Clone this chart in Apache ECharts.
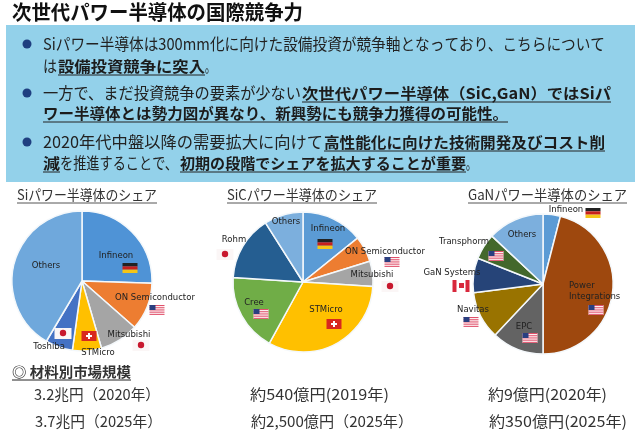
<!DOCTYPE html>
<html>
<head>
<meta charset="utf-8">
<script src="https://cdn.jsdelivr.net/npm/echarts@6/dist/echarts.min.js"></script>
<style>html,body{margin:0;padding:0;background:#fff}</style>
</head>
<body>
<div id="main" style="width:640px;height:432px;"></div>
<script type="text/javascript">
    // シェア(%) - 図から読み取り
    const siNames = ['Infineon', 'ON Semiconductor', 'Mitsubishi', 'STMicro', 'Toshiba', 'Others'];
    const siValues = [25.5, 11, 9, 6.7, 6.3, 41.5];
    const sicNames = ['Infineon', 'ON Semiconductor', 'Mitsubishi', 'STMicro', 'Cree', 'Rohm', 'Others'];
    const sicValues = [14.2, 6, 5.8, 32, 18, 15, 9];
    const ganNames = ['Infineon', 'Power\nIntegrations', 'EPC', 'Navitas', 'GaN Systems', 'Transphorm', 'Others'];
    const ganValues = [4, 46, 12, 11, 8, 6, 13];

    const siColors = ['#4f93d6', '#ed7d31', '#a5a5a5', '#ffc000', '#4472c4', '#6fa8dc'];
    const sicColors = ['#5b9bd5', '#ed7d31', '#a5a5a5', '#ffc000', '#70ad47', '#255e91', '#7cafdd'];
    const ganColors = ['#5b9bd5', '#9e480e', '#636363', '#997300', '#264478', '#43682b', '#7cafdd'];

    // ラベル位置
    const siLabelPos = [[116, 256], [155, 298], [129, 335], [98, 353], [49, 347], [46, 266]];
    const sicLabelPos = [[328, 229], [385, 252], [372, 275], [326, 310], [254, 303], [234, 240], [286, 222]];
    const ganLabelPos = [[566, 210], [569, 291, 'left'], [524, 327], [473, 310], [452, 273], [464, 242], [522, 235]];

    const flags = [
        ['de', 130, 268], ['us', 157, 310], ['jp', 141, 345], ['ch', 89, 336], ['jp', 63, 333],
        ['de', 325, 244], ['us', 392, 262], ['jp', 390, 286], ['ch', 334, 324], ['us', 261, 314], ['jp', 225, 254],
        ['de', 593, 213], ['us', 496, 256], ['ca', 461, 285], ['us', 471, 322], ['us', 530, 338], ['us', 596, 310]
    ];

    const jpFont = '"Noto Sans CJK JP"';
    const measure = document.createElement('canvas').getContext('2d');

    // 幅を合わせたテキスト
    function seg(text, x, y, width, size, opt) {
        opt = opt || {};
        let font = (opt.bold ? 'bold ' : '') + size + 'px ' + jpFont;
        measure.font = font;
        let out = [{
            type: 'text', x: x, y: y,
            scaleX: width / measure.measureText(text).width,
            style: { text: text, font: font, fill: opt.color || '#222', verticalAlign: 'middle' },
            silent: true, z: 10
        }];
        if (opt.under) {
            out.push({
                type: 'line', silent: true, z: 10,
                shape: { x1: x, y1: y + opt.under, x2: x + width, y2: y + opt.under },
                style: { stroke: opt.lineColor || '#222', lineWidth: 1 }
            });
        }
        return out;
    }

    function rect(x, y, w, h, fill) {
        return { type: 'rect', silent: true, z: 12, shape: { x: x, y: y, width: w, height: h }, style: { fill: fill } };
    }

    function flag(kind, cx, cy) {
        const w = 15, h = 10, x = cx - w / 2, y = cy - h / 2;
        if (kind === 'de') {
            return [rect(x, y, w, h / 3, '#222'), rect(x, y + h / 3, w, h / 3, '#c8201c'), rect(x, y + 2 * h / 3, w, h / 3, '#f5c518')];
        }
        if (kind === 'jp') {
            return [rect(x - 1, y, w + 2, h + 1, '#fbf6f6'),
                { type: 'circle', silent: true, z: 13, shape: { cx: cx, cy: cy, r: 3.2 }, style: { fill: '#c8182e' } }];
        }
        if (kind === 'ch') {
            return [rect(x, y, w, h, '#d8281e'), rect(cx - 3, cy - 1, 6, 2, '#fff'), rect(cx - 1, cy - 3, 2, 6, '#fff')];
        }
        if (kind === 'ca') {
            return [rect(x - 1, y, w + 2, h + 2, '#fff'), rect(x - 1, y, 4, h + 2, '#d8283c'), rect(x + w - 3, y, 4, h + 2, '#d8283c'), rect(cx - 2, cy - 2, 5, 5, '#d8283c')];
        }
        let out = [rect(x, y, w, h, '#fff')];
        for (let i = 0; i < 5; i++) {
            out.push(rect(x, y + i * 2.2, w, 1.1, '#e0506a'));
        }
        out.push(rect(x, y, 6, 5, '#2a3f80'));
        return out;
    }

    function pie(center, names, values, colors, pos) {
        return {
            type: 'pie',
            radius: 70,
            center: center,
            startAngle: 90,
            silent: true,
            animation: false,
            avoidLabelOverlap: false,
            itemStyle: { borderColor: '#f4f8fb', borderWidth: 1.5 },
            label: { show: true, position: 'inside', formatter: '{b}', fontSize: 8.5, fontFamily: 'DejaVu Sans', color: '#222', lineHeight: 11 },
            labelLine: { show: false },
            labelLayout: function (p) {
                let a = pos[p.dataIndex];
                return { x: a[0], y: a[1], align: a[2] || 'center', verticalAlign: 'middle', hideOverlap: false };
            },
            data: names.map(function (n, i) {
                return { name: n, value: values[i], itemStyle: { color: colors[i] } };
            })
        };
    }

    const ink = '#1c1c1c';
    let graphics = [
        { type: 'rect', silent: true, shape: { x: 6, y: 25, width: 629, height: 157 }, style: { fill: '#93d1ea' } }
    ].concat(
        seg('次世代パワー半導体の国際競争力', 12, 12, 291, 20, { bold: true, color: '#111' }),
        seg('Siパワー半導体は300mm化に向けた設備投資が競争軸となっており、こちらについて', 43, 44, 562, 16),
        seg('は', 43, 66, 14, 16),
        seg('設備投資競争に突入', 58, 66, 147, 15, { bold: true, under: 9, color: ink }),
        seg('。', 205, 66, 10, 16),
        seg('一方で、まだ投資競争の要素が少ない', 43, 93, 258, 16),
        seg('次世代パワー半導体（SiC,GaN）ではSiパ', 302, 93, 309, 15, { bold: true, under: 9, color: ink }),
        seg('ワー半導体とは勢力図が異なり、新興勢にも競争力獲得の可能性。', 43, 113, 465, 15, { bold: true, under: 9, color: ink }),
        seg('2020年代中盤以降の需要拡大に向けて', 43, 142, 280, 16),
        seg('高性能化に向けた技術開発及びコスト削', 324, 142, 281, 15, { bold: true, under: 9, color: ink }),
        seg('減', 43, 163, 17, 15, { bold: true, under: 9, color: ink }),
        seg('を推進することで、', 60, 163, 118, 16),
        seg('初期の段階でシェアを拡大することが重要', 180, 163, 286, 15, { bold: true, under: 9, color: ink }),
        seg('。', 466, 163, 10, 16),
        seg('Siパワー半導体のシェア', 17, 195, 140, 14, { under: 8, lineColor: '#555', color: '#333' }),
        seg('SiCパワー半導体のシェア', 227, 195, 150, 14, { under: 8, lineColor: '#555', color: '#333' }),
        seg('GaNパワー半導体のシェア', 468, 195, 159, 14, { under: 8, lineColor: '#555', color: '#333' }),
        seg('◎ 材料別市場規模', 12, 372, 119, 14, { bold: true, under: 8, color: '#333' }),
        seg('3.2兆円（2020年）', 34, 394, 126, 15, { color: '#333' }),
        seg('3.7兆円（2025年）', 35, 421, 127, 15, { color: '#333' }),
        seg('約540億円(2019年)', 250, 394, 139, 15, { color: '#333' }),
        seg('約2,500億円（2025年）', 251, 421, 162, 15, { color: '#333' }),
        seg('約9億円(2020年)', 488, 394, 119, 15, { color: '#333' }),
        seg('約350億円(2025年)', 489, 421, 138, 15, { color: '#333' })
    );
    [44, 93, 142].forEach(function (y) {
        graphics.push({ type: 'circle', silent: true, z: 10, shape: { cx: 27, cy: y, r: 4.5 }, style: { fill: '#1f3f80' } });
    });
    flags.forEach(function (f) {
        graphics = graphics.concat(flag(f[0], f[1], f[2]));
    });

    let myChart = echarts.init(document.getElementById('main'));
    myChart.setOption({
        animation: false,
        backgroundColor: '#fff',
        graphic: graphics,
        series: [
            pie([82, 281], siNames, siValues, siColors, siLabelPos),
            pie([303, 282], sicNames, sicValues, sicColors, sicLabelPos),
            pie([543, 284], ganNames, ganValues, ganColors, ganLabelPos)
        ]
    });
</script>
</body>
</html>
